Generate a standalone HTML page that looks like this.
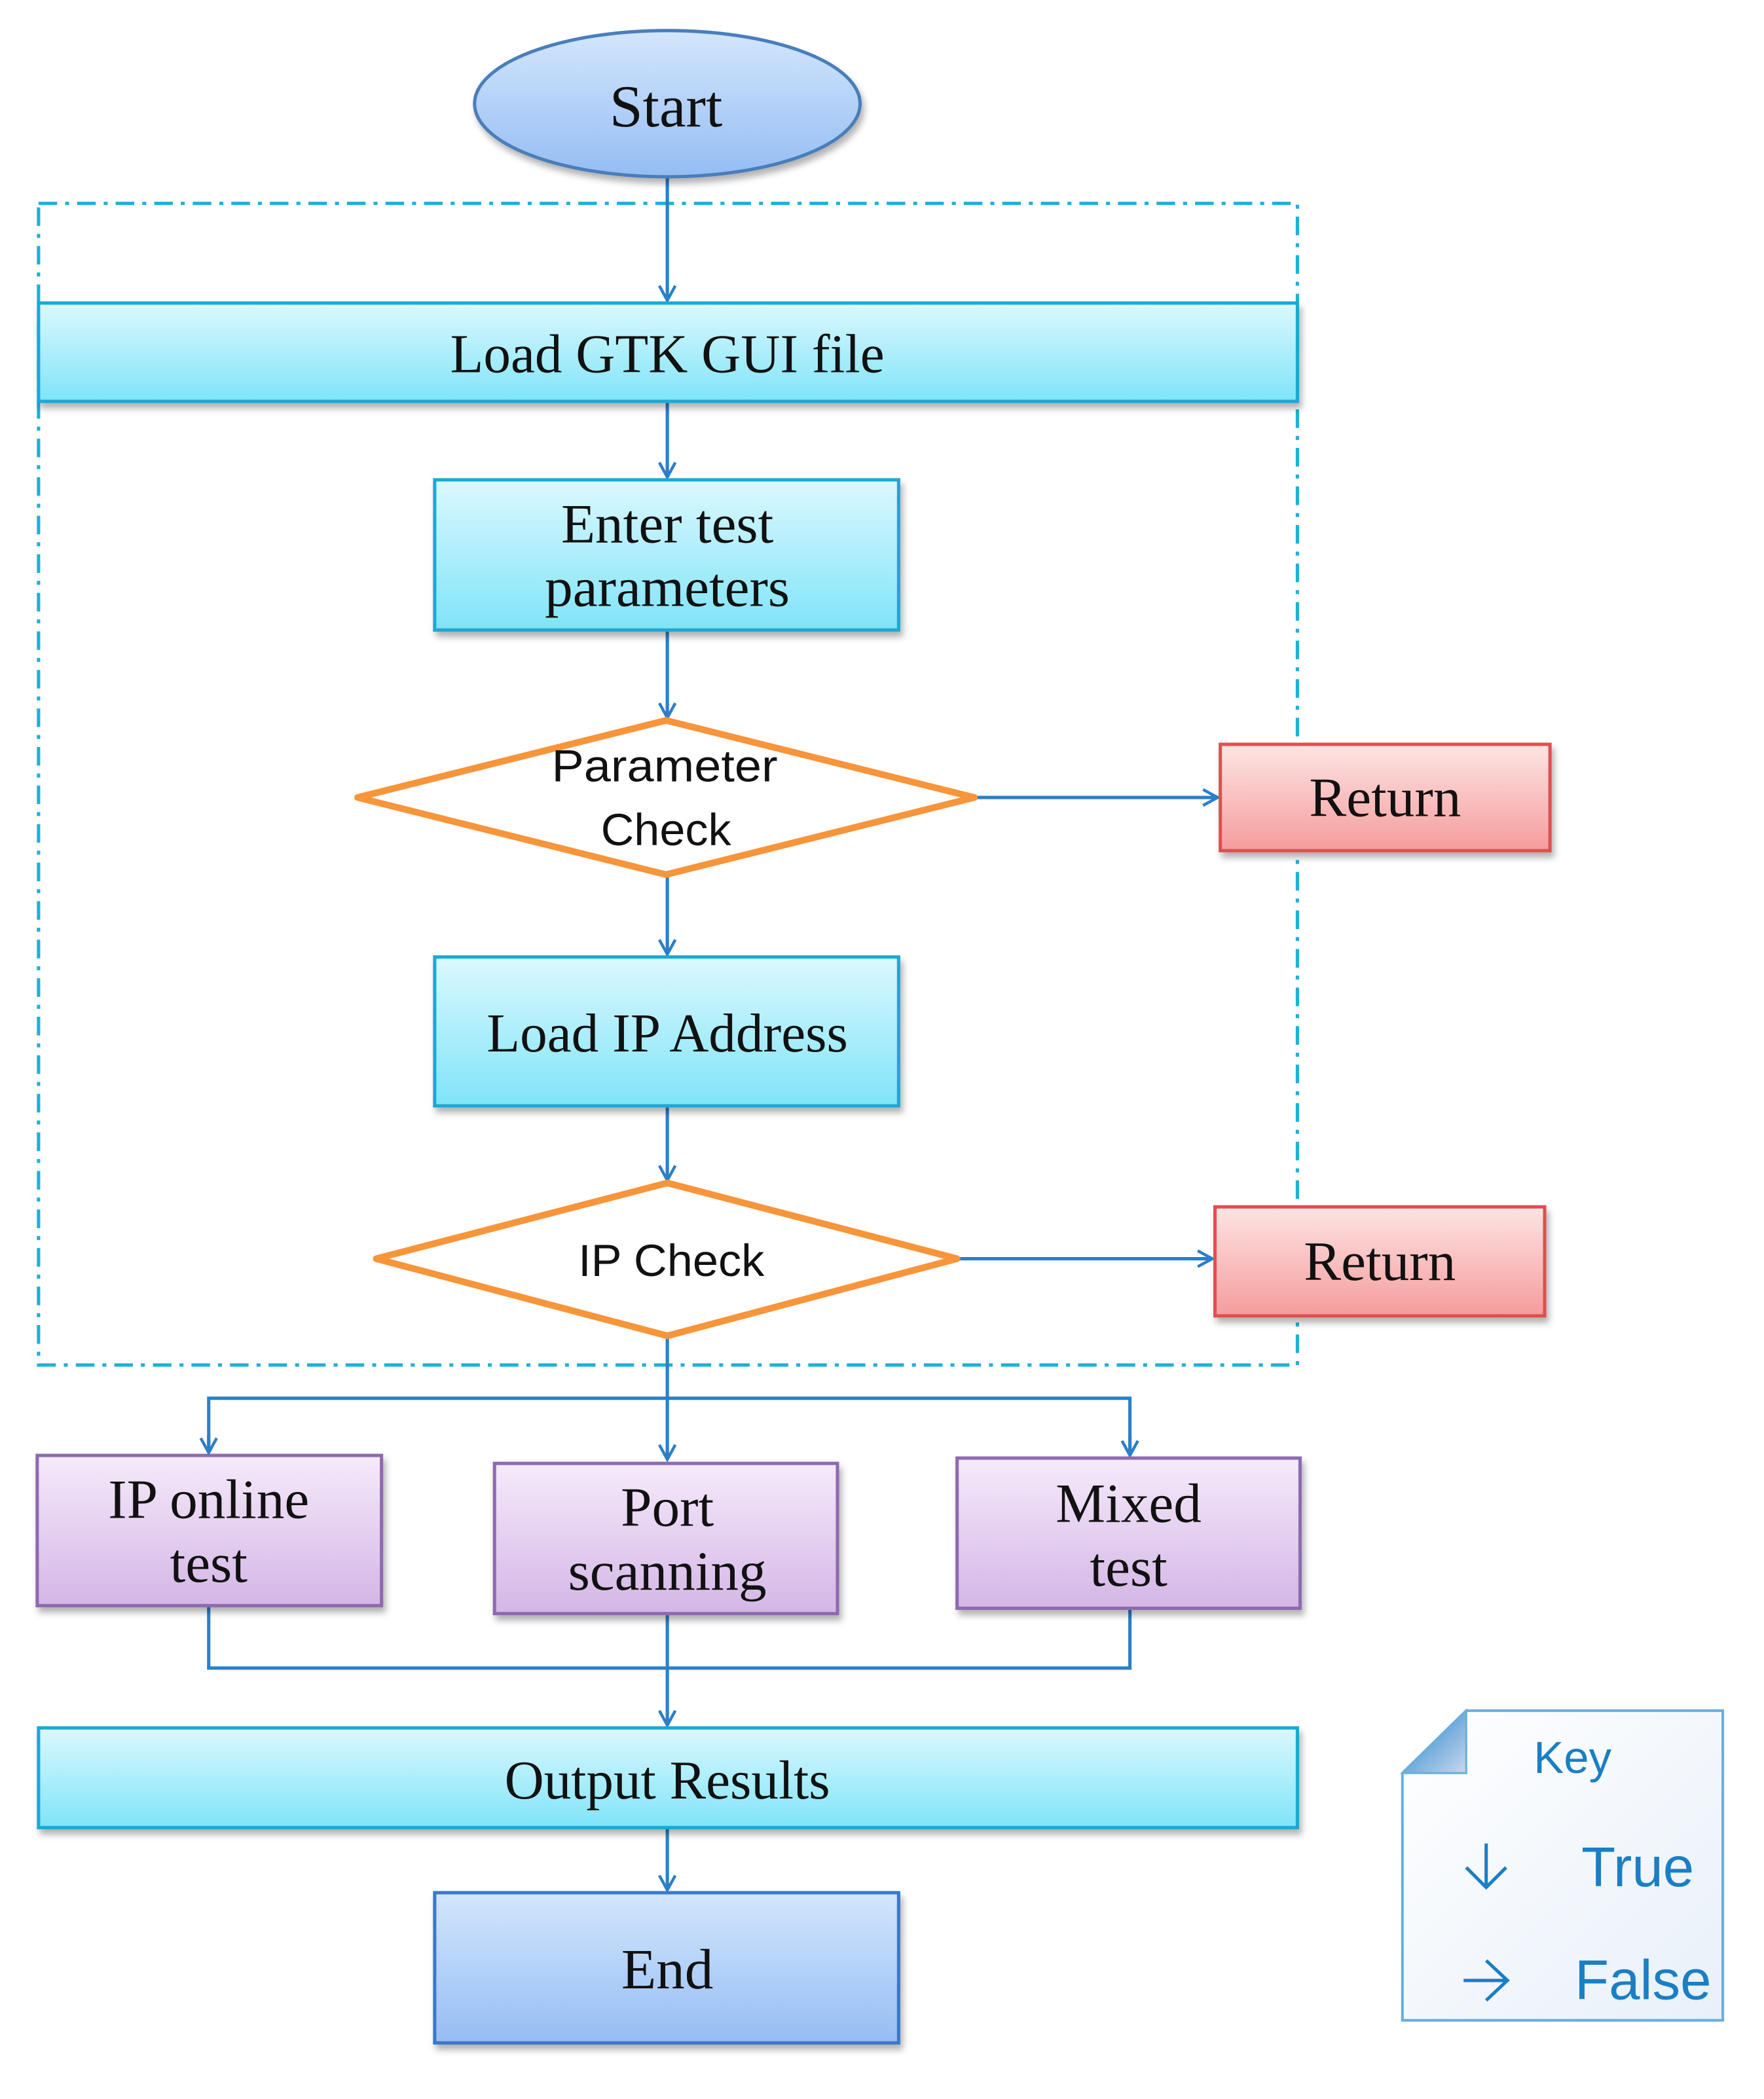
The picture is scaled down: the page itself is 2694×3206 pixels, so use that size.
<!DOCTYPE html>
<html><head><meta charset="utf-8"><style>
html,body{margin:0;padding:0;background:#fff;}
svg{display:block;}
.serif{font-family:"Liberation Serif",serif;fill:#111;}
.sans{font-family:"Liberation Sans","DejaVu Sans",sans-serif;fill:#111;}
</style></head><body>
<svg width="2694" height="3206" viewBox="0 0 1327 1579.2" preserveAspectRatio="none" xmlns="http://www.w3.org/2000/svg">
<defs>
<linearGradient id="cy" x1="0" y1="0" x2="0" y2="1"><stop offset="0" stop-color="#dcf8fe"/><stop offset="1" stop-color="#7fe4f8"/></linearGradient>
<linearGradient id="bl" x1="0" y1="0" x2="0" y2="1"><stop offset="0" stop-color="#d3e6fc"/><stop offset="1" stop-color="#95bdf3"/></linearGradient>
<linearGradient id="rd" x1="0" y1="0" x2="0" y2="1"><stop offset="0" stop-color="#fde4e4"/><stop offset="1" stop-color="#f59c9c"/></linearGradient>
<linearGradient id="pu" x1="0" y1="0" x2="0" y2="1"><stop offset="0" stop-color="#f5eafa"/><stop offset="1" stop-color="#d4b6e6"/></linearGradient>
<linearGradient id="kg" x1="0" y1="0" x2="1" y2="1"><stop offset="0" stop-color="#ffffff"/><stop offset="1" stop-color="#e8f0f9"/></linearGradient>
<linearGradient id="fold" x1="0" y1="0" x2="1" y2="1"><stop offset="0" stop-color="#1a7fc8"/><stop offset="1" stop-color="#c9d8ee"/></linearGradient>
<filter id="sh" x="-5%" y="-10%" width="110%" height="130%"><feDropShadow dx="2" dy="4" stdDeviation="2.5" flood-color="#000" flood-opacity="0.3"/></filter>
<marker id="ar" markerWidth="14" markerHeight="14" refX="12" refY="7" orient="auto" markerUnits="userSpaceOnUse">
<path d="M1,1 L12,7 L1,13" fill="none" stroke="#2b7fc8" stroke-width="2.2"/></marker>
</defs>

<rect x="29" y="153" width="947" height="874" fill="none" stroke="#1fb0d8" stroke-width="2.5" stroke-dasharray="14,6,3,6"/>

<g stroke="#2b7fc8" stroke-width="2.5" fill="none">
<line x1="502" y1="133" x2="502" y2="226" marker-end="url(#ar)"/>
<line x1="502" y1="302" x2="502" y2="359" marker-end="url(#ar)"/>
<line x1="502" y1="474" x2="502" y2="540" marker-end="url(#ar)"/>
<line x1="502" y1="658" x2="502" y2="718" marker-end="url(#ar)"/>
<line x1="502" y1="832" x2="502" y2="888" marker-end="url(#ar)"/>
<line x1="733" y1="600" x2="916" y2="600" marker-end="url(#ar)"/>
<line x1="720" y1="947" x2="912" y2="947" marker-end="url(#ar)"/>
<line x1="502" y1="1005" x2="502" y2="1098" marker-end="url(#ar)"/>
<polyline points="157,1093 157,1052 850,1052 850,1093"/>
<line x1="157" y1="1080" x2="157" y2="1093" marker-end="url(#ar)"/>
<line x1="850" y1="1080" x2="850" y2="1095" marker-end="url(#ar)"/>
<polyline points="157,1208 157,1255 850,1255 850,1210"/>
<line x1="502" y1="1214" x2="502" y2="1298" marker-end="url(#ar)"/>
<line x1="502" y1="1375" x2="502" y2="1422" marker-end="url(#ar)"/>
</g>

<ellipse cx="502" cy="78" rx="145" ry="55" fill="url(#bl)" stroke="#4a7ebb" stroke-width="2.5" filter="url(#sh)"/>
<text x="501" y="95" text-anchor="middle" class="serif" font-size="45">Start</text>

<rect x="29" y="228" width="947" height="74" fill="url(#cy)" stroke="#1ba8d6" stroke-width="2.5" filter="url(#sh)"/>
<text x="502" y="280" text-anchor="middle" class="serif" font-size="41">Load GTK GUI file</text>

<rect x="327" y="361" width="349" height="113" fill="url(#cy)" stroke="#1ba8d6" stroke-width="2.5" filter="url(#sh)"/>
<text x="502" y="408" text-anchor="middle" class="serif" font-size="42">Enter test</text>
<text x="502" y="456" text-anchor="middle" class="serif" font-size="42">parameters</text>

<polygon points="269,600 501,542 733,600 501,658" fill="#fff" stroke="#f7953a" stroke-width="5" stroke-linejoin="round"/>
<text x="500" y="588" text-anchor="middle" class="sans" font-size="34" textLength="170" lengthAdjust="spacingAndGlyphs">Parameter</text>
<text x="501" y="636" text-anchor="middle" class="sans" font-size="34" textLength="98" lengthAdjust="spacingAndGlyphs">Check</text>

<rect x="918" y="560" width="248" height="80" fill="url(#rd)" stroke="#e05050" stroke-width="2.5" filter="url(#sh)"/>
<text x="1042" y="614" text-anchor="middle" class="serif" font-size="42">Return</text>

<rect x="327" y="720" width="349" height="112" fill="url(#cy)" stroke="#1ba8d6" stroke-width="2.5" filter="url(#sh)"/>
<text x="502" y="791" text-anchor="middle" class="serif" font-size="41">Load IP Address</text>

<polygon points="283,947 502,890 720,947 502,1005" fill="#fff" stroke="#f7953a" stroke-width="5" stroke-linejoin="round"/>
<text x="505" y="960" text-anchor="middle" class="sans" font-size="34" textLength="140" lengthAdjust="spacingAndGlyphs">IP Check</text>

<rect x="914" y="908" width="248" height="82" fill="url(#rd)" stroke="#e05050" stroke-width="2.5" filter="url(#sh)"/>
<text x="1038" y="963" text-anchor="middle" class="serif" font-size="42">Return</text>

<rect x="28" y="1095" width="259" height="113" fill="url(#pu)" stroke="#8e6bb0" stroke-width="2.5" filter="url(#sh)"/>
<text x="157" y="1142" text-anchor="middle" class="serif" font-size="42">IP online</text>
<text x="157" y="1190" text-anchor="middle" class="serif" font-size="42">test</text>
<rect x="372" y="1101" width="258" height="113" fill="url(#pu)" stroke="#8e6bb0" stroke-width="2.5" filter="url(#sh)"/>
<text x="502" y="1148" text-anchor="middle" class="serif" font-size="42">Port</text>
<text x="502" y="1196" text-anchor="middle" class="serif" font-size="42">scanning</text>
<rect x="720" y="1097" width="258" height="113" fill="url(#pu)" stroke="#8e6bb0" stroke-width="2.5" filter="url(#sh)"/>
<text x="849" y="1145" text-anchor="middle" class="serif" font-size="42">Mixed</text>
<text x="849" y="1193" text-anchor="middle" class="serif" font-size="42">test</text>

<rect x="29" y="1300" width="947" height="75" fill="url(#cy)" stroke="#1ba8d6" stroke-width="2.5" filter="url(#sh)"/>
<text x="502" y="1353" text-anchor="middle" class="serif" font-size="41">Output Results</text>

<rect x="327" y="1424" width="349" height="113" fill="url(#bl)" stroke="#3a78c9" stroke-width="2.5" filter="url(#sh)"/>
<text x="502" y="1496" text-anchor="middle" class="serif" font-size="43">End</text>

<path d="M1103,1287 L1296,1287 L1296,1520 L1055,1520 L1055,1334 Z" fill="url(#kg)" stroke="#6aaedc" stroke-width="2"/>
<path d="M1103,1287 L1103,1334 L1055,1334 Z" fill="url(#fold)" stroke="#6aaedc" stroke-width="1.5"/>
<text x="1183" y="1334" text-anchor="middle" font-family="Liberation Sans, DejaVu Sans, sans-serif" font-size="34" fill="#1a7fc4">Key</text>
<g stroke="#1a7fc4" stroke-width="2.5" fill="none">
<line x1="1118" y1="1387" x2="1118" y2="1420"/><polyline points="1103,1405 1118,1420 1133,1405"/>
<line x1="1101" y1="1490" x2="1134" y2="1490"/><polyline points="1118,1475 1134,1490 1118,1505"/>
</g>
<text x="1232" y="1419" text-anchor="middle" font-family="Liberation Sans, DejaVu Sans, sans-serif" font-size="42" fill="#1a7fc4">True</text>
<text x="1236" y="1504" text-anchor="middle" font-family="Liberation Sans, DejaVu Sans, sans-serif" font-size="42" fill="#1a7fc4">False</text>
</svg>
</body></html>
